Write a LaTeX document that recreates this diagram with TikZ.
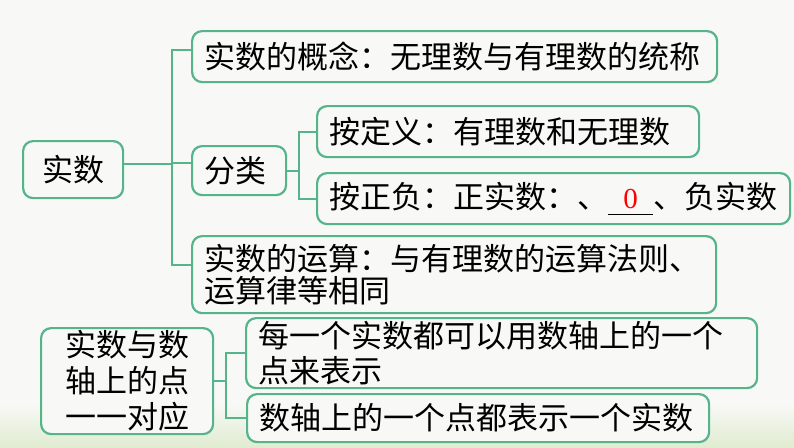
\documentclass[tikz,border=0pt]{standalone}
\usepackage{fontspec}
\setmainfont{Noto Sans CJK SC}
\newfontfamily\numfont{Liberation Serif}
\usetikzlibrary{positioning}
\definecolor{mapgreen}{RGB}{86,180,138}
\definecolor{paper}{RGB}{248,248,246}
\definecolor{bandgreen}{RGB}{224,236,208}
\tikzset{
    base/.style={draw=mapgreen, line width=2.2pt, rounded corners=10pt, fill=paper, inner xsep=12pt, inner ysep=0pt, anchor=north west, align=left, font=\fontsize{31}{35}\selectfont},
    link/.style={draw=mapgreen, line width=2.2pt}
}
\newcommand{\blankzero}{\rlap{\rule[-7pt]{45pt}{1.1pt}}\makebox[45pt]{\color{red}\fontsize{29}{30}\numfont 0}}

\begin{document}
\begin{tikzpicture}[x=1pt, y=-1pt]
\useasboundingbox (0,0) rectangle (794,447);
\fill[paper] (0,0) rectangle (794,447);
\shade[top color=paper, bottom color=bandgreen] (0,405) rectangle (794,447);
% main tree
\node[base, align=center, text width=76pt, minimum height=57pt] (root) at (22,140) {实数};
\node[base, text width=501pt, minimum height=51pt] (concept) at (191,30) {实数的概念：无理数与有理数的统称};
\node[base, text width=70pt, minimum height=49pt] (kind) at (191,145) {分类};
\node[base, text width=358pt, minimum height=51pt] (bydef) at (316,105) {按定义：有理数和无理数};
\node[base, text width=449pt, minimum height=51pt] (bysign) at (316,172) {按正负：正实数：、\blankzero、负实数};
\node[base, text width=500pt, minimum height=77pt, font=\fontsize{31}{32}\selectfont] (calc) at (191,235) {实数的运算：与有理数的运算法则、\\运算律等相同};
% number line
\node[base, align=center, text width=148pt, minimum height=106pt, font=\fontsize{31}{36}\selectfont] (axis) at (40,327) {实数与数\\轴上的点\\一一对应};
\node[base, text width=487pt, minimum height=70pt] (each) at (245,317) {每一个实数都可以用数轴上的一个\\点来表示};
\node[base, text width=438pt, minimum height=48pt] (point) at (246,393) {数轴上的一个点都表示一个实数};
\coordinate (j1) at ([xshift=48pt,yshift=6pt]root.east);
\coordinate (j2) at ([xshift=12pt]kind.east);
\coordinate (j3) at ([xshift=12pt]axis.east);
\draw[link] ([yshift=6pt]root.east) -- (j1);
\draw[link] (j1) |- ([yshift=6.5pt]concept.west);
\draw[link] (j1) |- ([yshift=7.5pt]kind.west);
\draw[link] (j1) |- ([yshift=9.5pt]calc.west);
\draw[link] (kind.east) -- (j2);
\draw[link] (j2) |- (bydef.west);
\draw[link] (j2) |- (bysign.west);
\draw[link] (axis.east) -- (j3);
\draw[link] (j3) |- (each.west);
\draw[link] (j3) |- (point.west);
\end{tikzpicture}
\end{document}
